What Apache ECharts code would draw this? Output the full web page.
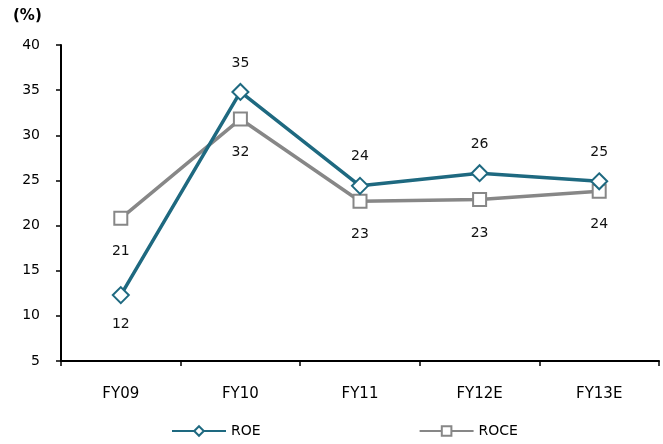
<!DOCTYPE html>
<html>
<head>
<meta charset="utf-8">
<script src="https://cdn.jsdelivr.net/npm/echarts@6/dist/echarts.min.js"></script>
<style>
  html, body { margin: 0; padding: 0; background: #fff; }
  #chart { width: 663px; height: 444px; }
</style>
</head>
<body>
<div id="chart"></div>
<script>
// Return ratios by fiscal year (%)
const categories = ['FY09', 'FY10', 'FY11', 'FY12E', 'FY13E'];
const roe = [12.3, 34.8, 24.4, 25.8, 24.9];
const roce = [20.8, 31.8, 22.7, 22.9, 23.8];
const yTicks = { min: 5, max: 40, interval: 5 };

const FONT = 'DejaVu Sans, Verdana, sans-serif';
const chart = echarts.init(document.getElementById('chart'));

// ROE: labels above except the first point, which sits below
const roeData = roe.map((v, i) => ({
  value: v,
  label: { position: i === 0 ? 'bottom' : 'top' }
}));

chart.setOption({
  animation: false,
  backgroundColor: '#fff',
  graphic: [{
    type: 'text',
    left: 13, top: 9,
    style: { text: '(%)', font: 'bold 15px ' + FONT, fill: '#000' }
  }],
  grid: { left: 61, right: 4, top: 45, bottom: 83 },
  legend: {
    bottom: 1,
    left: 166,
    itemWidth: 54,
    itemHeight: 12,
    itemGap: 158,
    textStyle: { fontFamily: FONT, fontSize: 14, color: '#000' },
    data: ['ROE', 'ROCE']
  },
  xAxis: {
    type: 'category',
    data: categories,
    boundaryGap: true,
    axisLine: { lineStyle: { color: '#000', width: 2 } },
    axisTick: { show: true, length: 5, lineStyle: { color: '#000', width: 1.5 } },
    axisLabel: { fontFamily: FONT, fontSize: 15, color: '#000', margin: 26 },
    splitLine: { show: false }
  },
  yAxis: {
    type: 'value',
    min: yTicks.min, max: yTicks.max, interval: yTicks.interval,
    axisLine: { show: true, lineStyle: { color: '#000', width: 2 } },
    axisTick: { show: true, length: 5, lineStyle: { color: '#000', width: 1.5 } },
    axisLabel: { fontFamily: FONT, fontSize: 14, color: '#000', margin: 21 },
    splitLine: { show: false }
  },
  series: [
    {
      name: 'ROE',
      type: 'line',
      data: roeData,
      color: '#1e6980',
      lineStyle: { width: 3.5, color: '#1e6980' },
      symbol: 'diamond',
      symbolSize: 16,
      itemStyle: { color: '#fff', borderColor: '#1e6980', borderWidth: 2 },
      label: {
        show: true,
        distance: 13,
        fontFamily: FONT, fontSize: 14, color: '#111',
        formatter: p => Math.round(p.value)
      },
      z: 3
    },
    {
      name: 'ROCE',
      type: 'line',
      data: roce,
      color: '#878787',
      lineStyle: { width: 3.5, color: '#878787' },
      symbol: 'rect',
      symbolSize: 13,
      itemStyle: { color: '#fff', borderColor: '#878787', borderWidth: 2 },
      label: {
        show: true,
        position: 'bottom',
        distance: 19,
        fontFamily: FONT, fontSize: 14, color: '#111',
        formatter: p => Math.round(p.value)
      },
      z: 2
    }
  ]
});
</script>
</body>
</html>
